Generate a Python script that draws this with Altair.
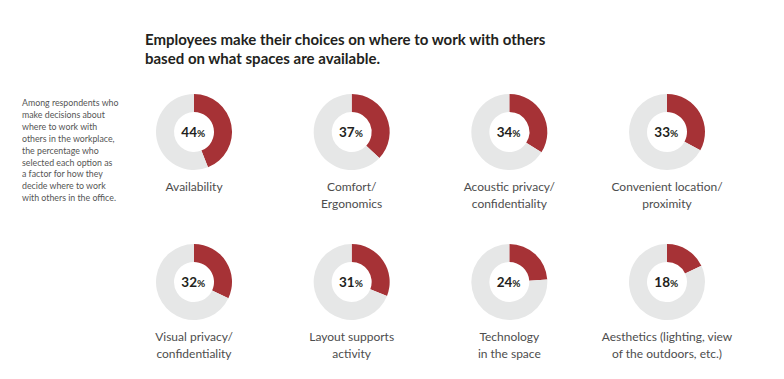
import altair as alt
import pandas as pd
import math

categories = ["Availability", "Comfort/\nErgonomics", "Acoustic privacy/\nconfidentiality",
              "Convenient location/\nproximity", "Visual privacy/\nconfidentiality",
              "Layout supports\nactivity", "Technology\nin the space",
              "Aesthetics (lighting, view\nof the outdoors, etc.)"]
values = [44, 37, 34, 33, 32, 31, 24, 18]
cols = [0, 1, 2, 3, 0, 1, 2, 3]
rows = [0, 0, 0, 0, 1, 1, 1, 1]

title_lines = ["Employees make their choices on where to work with others",
               "based on what spaces are available."]
note_lines = ["Among respondents who", "make decisions about", "where to work with",
              "others in the workplace,", "the percentage who", "selected each option as",
              "a factor for how they", "decide where to work", "with others in the office."]

RED = "#a63236"
GREY = "#e6e7e7"

df = pd.DataFrame({"label": categories, "value": values, "col": cols, "row": rows})
arcs = []
for c, v, cl, r in zip(categories, values, cols, rows):
    arcs.append({"label": c, "part": "sel", "t0": 0.0, "t1": v / 100 * 2 * math.pi, "col": cl, "row": r})
    arcs.append({"label": c, "part": "rest", "t0": v / 100 * 2 * math.pi, "t1": 2 * math.pi, "col": cl, "row": r})
arc_df = pd.DataFrame(arcs)

xs = alt.Scale(domain=[0, 3], range=[186, 659])
ys = alt.Scale(domain=[0, 1], range=[124, 274])
X = alt.X("col:Q", scale=xs, axis=None)
Y = alt.Y("row:Q", scale=ys, axis=None)

donuts = alt.Chart(arc_df).mark_arc(radius=38, radius2=20, stroke=None).encode(
    x=X, y=Y,
    theta=alt.Theta("t0:Q", scale=None),
    theta2="t1",
    color=alt.Color("part:N", scale=alt.Scale(domain=["sel", "rest"], range=[RED, GREY]), legend=None),
)

base = alt.Chart(df).transform_calculate(num="datum.value + ''")
nums = base.mark_text(font="Lato", fontWeight="bold", fontSize=13.5, color="#231f20",
                      align="right", baseline="middle", dx=3, dy=1).encode(x=X, y=Y, text="num:N")
pcts = base.mark_text(font="Lato", fontWeight="bold", fontSize=10, color="#231f20",
                      align="left", baseline="middle", dx=3, dy=2).encode(x=X, y=Y, text=alt.value("%"))
labels = base.mark_text(font="Lato", fontSize=12, color="#4d4d4d", align="center",
                        baseline="top", dy=50, lineBreak="\n", lineHeight=17).encode(x=X, y=Y, text="label:N")

title = alt.Chart(pd.DataFrame({"t": ["\n".join(title_lines)]})).mark_text(
    font="Lato", fontWeight="bold", fontSize=15, color="#231f20", align="left",
    baseline="alphabetic", lineBreak="\n", lineHeight=19).encode(
    x=alt.value(137), y=alt.value(37), text="t:N")

note = alt.Chart(pd.DataFrame({"t": ["\n".join(note_lines)]})).mark_text(
    font="Lato", fontSize=8.8, color="#555555", align="left", baseline="top",
    lineBreak="\n", lineHeight=11.9).encode(
    x=alt.value(14), y=alt.value(91), text="t:N")

chart = alt.layer(donuts, nums, pcts, labels, title, note).properties(
    width=768, height=363, autosize=alt.AutoSizeParams(type="none"), padding=0
).configure_view(stroke=None)

chart.save("out.html", embed_options={"renderer": "svg", "actions": False})
